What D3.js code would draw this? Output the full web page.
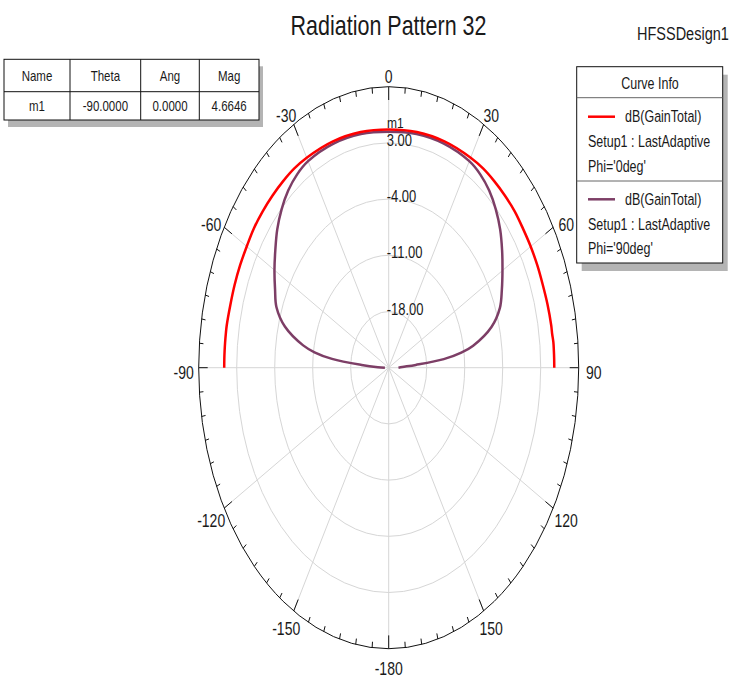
<!DOCTYPE html>
<html>
<head>
<meta charset="utf-8">
<script src="https://cdn.jsdelivr.net/npm/d3@7"></script>
<style>
  html, body { margin: 0; padding: 0; background: #fff; }
  text { font-family: "Liberation Sans", Arial, sans-serif; fill: #1a1a1a; }
</style>
</head>
<body>
<div id="chart"></div>
<script>
// polar data, theta in degrees, gain in dB
const thetas = [-90, -88, -86, -84, -82, -80, -75, -70, -65, -60, -55, -50, -45, -40, -35, -30, -20, -10, 0,
  10, 20, 30, 35, 40, 45, 50, 55, 60, 65, 70, 75, 80, 82, 84, 86, 88, 90];
const gainPhi0 = [5.3, 5.3, 5.3, 5.3, 5.3, 5.3, 5.2, 5.2, 5.2, 5.2, 5.3, 5.3, 5.3, 5.3, 5.3, 5.2, 5.0, 4.8, 4.66,
  4.8, 5.0, 5.2, 5.3, 5.3, 5.3, 5.3, 5.2, 5.2, 5.2, 5.2, 5.3, 5.4, 5.4, 5.5, 5.5, 5.5, 5.5];
const gainPhi90 = [-24.3, -23, -20, -14.5, -11.2, -9.0, -5.2, -3.0, -1.9, -0.7, 0.5, 1.8, 2.9, 3.8, 4.4, 4.7, 4.7, 4.55, 4.4,
  4.55, 4.7, 4.7, 4.4, 3.8, 2.9, 1.8, 0.5, -0.8, -2.0, -3.2, -5.4, -9.2, -11.5, -14.8, -20, -22.5, -23.2];

const ringValues = [-18, -11, -4, 3];
const ringLabels = ["-18.00", "-11.00", "-4.00", "3.00"];
const angleTicks = [0, 30, 60, 90, 120, 150, 180, 210, 240, 270, 300, 330];
const angleLabels = ["0", "30", "60", "90", "120", "150", "-180", "-150", "-120", "-90", "-60", "-30"];

const tableHeader = ["Name", "Theta", "Ang", "Mag"];
const tableRow = ["m1", "-90.0000", "0.0000", "4.6646"];

const curves = [
  { name: "dB(GainTotal)", setup: "Setup1 : LastAdaptive", phi: "Phi='0deg'", values: gainPhi0, color: "#ff0000" },
  { name: "dB(GainTotal)", setup: "Setup1 : LastAdaptive", phi: "Phi='90deg'", values: gainPhi90, color: "#7d3e66" }
];

const width = 731, height = 686;
const cx = 388.7, cy = 367.7, RX = 190, RY = 281;
const SY = 1.25; // vertical text stretch

const svg = d3.select("#chart").append("svg")
  .attr("width", width).attr("height", height);

const r = d3.scaleLinear().domain([-25, 10]).range([0, 1]).clamp(true);

function pt(deg, rn) {
  const a = deg * Math.PI / 180;
  return [cx + RX * rn * Math.sin(a), cy - RY * rn * Math.cos(a)];
}

function label(g, x, y, str, size, anchor, sy) {
  return g.append("text")
    .attr("transform", `translate(${x},${y}) scale(1,${sy || SY})`)
    .attr("font-size", size)
    .attr("text-anchor", anchor || "middle")
    .attr("dominant-baseline", "central")
    .text(str);
}

// grid
const grid = svg.append("g");
grid.selectAll("ellipse.ring").data(ringValues).join("ellipse")
  .attr("cx", cx).attr("cy", cy)
  .attr("rx", d => RX * r(d)).attr("ry", d => RY * r(d))
  .attr("fill", "none").attr("stroke", "#d6d6d6").attr("stroke-width", 1);

grid.selectAll("line.spoke").data(angleTicks).join("line")
  .attr("x1", cx).attr("y1", cy)
  .attr("x2", d => pt(d, 1)[0]).attr("y2", d => pt(d, 1)[1])
  .attr("stroke", "#d6d6d6").attr("stroke-width", 1);

// outer boundary + ticks
grid.append("ellipse")
  .attr("cx", cx).attr("cy", cy).attr("rx", RX).attr("ry", RY)
  .attr("fill", "none").attr("stroke", "#111").attr("stroke-width", 1);

grid.selectAll("line.tick").data(d3.range(0, 360, 5)).join("line")
  .attr("x1", d => pt(d, 1)[0]).attr("y1", d => pt(d, 1)[1])
  .attr("x2", d => pt(d, 1 - (d % 30 === 0 ? 9 : 4) / RX)[0])
  .attr("y2", d => pt(d, 1 - (d % 30 === 0 ? 9 : 4) / RX)[1])
  .attr("stroke", "#111").attr("stroke-width", 1);

angleTicks.forEach((a, i) => {
  const rad = a * Math.PI / 180;
  label(svg, cx + (RX + 15) * Math.sin(rad), cy - (RY + 15) * Math.cos(rad) + 5, angleLabels[i], 14);
});

// curves
const line = d3.line()
  .x(d => pt(d[0], r(d[1]))[0])
  .y(d => pt(d[0], r(d[1]))[1])
  .curve(d3.curveCatmullRom);

curves.slice().reverse().forEach(c => {
  svg.append("path")
    .attr("d", line(thetas.map((t, i) => [t, c.values[i]])))
    .attr("fill", "none").attr("stroke", c.color).attr("stroke-width", 2.5);
});

// ring labels
ringValues.forEach((v, i) => {
  label(svg, cx - 2, cy - RY * r(v) - 2.5, ringLabels[i], 13, "start");
});

// marker label
label(svg, 387, 123, "m1", 12, "start");

// title
label(svg, 388.5, 25, "Radiation Pattern 32", 21.5, "middle", 1.3);
label(svg, 637, 33, "HFSSDesign1", 14.5, "start");

// marker table
const tb = svg.append("g");
const tx = 4, ty = 59.3, tw = 255, th = 60.7;
const colX = [tx, 70, 140.7, 199.3, tx + tw];
tb.append("rect").attr("x", tx + 4).attr("y", ty + 7).attr("width", tw).attr("height", th).attr("fill", "#b4b4b4");
tb.append("rect").attr("x", tx).attr("y", ty).attr("width", tw).attr("height", th)
  .attr("fill", "#fff").attr("stroke", "#111").attr("stroke-width", 1);
tb.append("line").attr("x1", tx).attr("x2", tx + tw).attr("y1", 91.7).attr("y2", 91.7).attr("stroke", "#111");
colX.slice(1, 4).forEach(x => {
  tb.append("line").attr("x1", x).attr("x2", x).attr("y1", ty).attr("y2", ty + th).attr("stroke", "#111");
});
tableHeader.forEach((h, i) => {
  const mx = (colX[i] + colX[i + 1]) / 2;
  label(tb, mx, 76.5, h, 11.5);
  label(tb, mx, 106.5, tableRow[i], 11.5);
});

// legend
const lg = svg.append("g");
const lx = 576.7, ly = 66.7, lw = 146, lh = 196.3;
lg.append("rect").attr("x", lx + 5).attr("y", ly + 8).attr("width", lw).attr("height", lh).attr("fill", "#b4b4b4");
lg.append("rect").attr("x", lx).attr("y", ly).attr("width", lw).attr("height", lh)
  .attr("fill", "#fff").attr("stroke", "#111").attr("stroke-width", 1);
lg.append("line").attr("x1", lx).attr("x2", lx + lw).attr("y1", 97.7).attr("y2", 97.7).attr("stroke", "#666");
lg.append("line").attr("x1", lx).attr("x2", lx + lw).attr("y1", 181).attr("y2", 181).attr("stroke", "#666");
label(lg, 650, 83, "Curve Info", 12.5);
curves.forEach((c, i) => {
  const y0 = 116.7 + i * 82.6;
  lg.append("line").attr("x1", 588).attr("x2", 615).attr("y1", y0).attr("y2", y0)
    .attr("stroke", c.color).attr("stroke-width", 2.5);
  label(lg, 625, y0, c.name, 12.5, "start");
  label(lg, 588, y0 + 25, c.setup, 12.5, "start");
  label(lg, 588, y0 + 49.5, c.phi, 12.5, "start");
});
</script>
</body>
</html>
